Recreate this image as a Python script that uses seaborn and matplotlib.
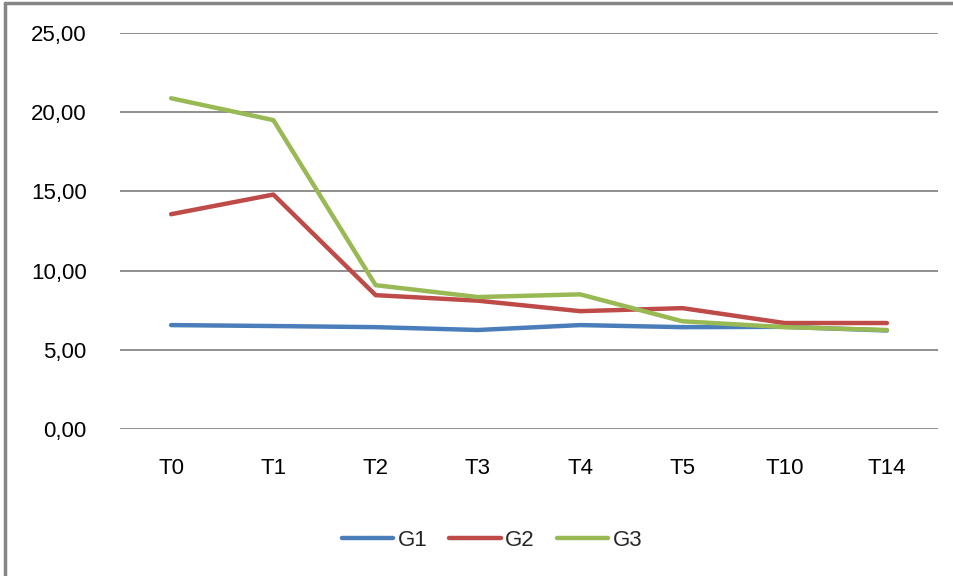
import matplotlib
matplotlib.use("Agg")
import matplotlib.pyplot as plt
import seaborn as sns
import pandas as pd
from matplotlib.lines import Line2D
from matplotlib.ticker import FuncFormatter

categories = ["T0", "T1", "T2", "T3", "T4", "T5", "T10", "T14"]
g1 = [6.56, 6.50, 6.43, 6.25, 6.56, 6.43, 6.45, 6.22]
g2 = [13.56, 14.80, 8.45, 8.10, 7.44, 7.63, 6.69, 6.69]
g3 = [20.88, 19.50, 9.08, 8.33, 8.50, 6.80, 6.43, 6.25]
series_names = ["G1", "G2", "G3"]
colors = ["#4A7EBB", "#BE4B48", "#98B954"]
y_ticks = [0, 5, 10, 15, 20, 25]

sns.set_style("white")
plt.rcParams["font.family"] = ["Liberation Sans Narrow", "Liberation Sans", "DejaVu Sans"]

rows = []
for name, vals in zip(series_names, [g1, g2, g3]):
    for c, v in zip(categories, vals):
        rows.append({"cat": c, "val": v, "series": name})
df = pd.DataFrame(rows)

fig = plt.figure(figsize=(9.54, 5.76), dpi=100)
ax = fig.add_axes([120/954, 1 - 429/576, (938 - 120)/954, (429 - 33)/576])

sns.lineplot(data=df, x="cat", y="val", hue="series", palette=colors,
             linewidth=3.2, sort=False, ax=ax, legend=False)

ax.set_xlim(-0.5, len(categories) - 0.5)
ax.set_ylim(0, 25)
ax.set_yticks(y_ticks)
ax.yaxis.set_major_formatter(FuncFormatter(lambda v, p: f"{v:.2f}".replace(".", ",")))
ax.set_xticks(range(len(categories)))
ax.set_xticklabels(categories)
ax.grid(axis="y", color="#868686", linewidth=1.3)
ax.grid(axis="x", visible=False)
for s in ax.spines.values():
    s.set_visible(False)
ax.tick_params(axis="both", length=0, labelsize=16, colors="black")
ax.tick_params(axis="y", pad=24)
ax.tick_params(axis="x", pad=21)
ax.set_xlabel("")
ax.set_ylabel("")

handles = [Line2D([0], [0], color=c, lw=3.2) for c in colors]
fig.legend(handles, series_names, loc="center", bbox_to_anchor=(492/954, 1 - 540/576),
           ncol=3, frameon=False, fontsize=16, handlelength=2.3, handletextpad=0.2,
           columnspacing=1.0)

# outer chart border (left and top visible)
fig.add_artist(Line2D([5/954, 5/954], [0, 1 - 3/576], transform=fig.transFigure,
                      color="#868686", lw=2.5))
fig.add_artist(Line2D([5/954, 1], [1 - 3/576, 1 - 3/576], transform=fig.transFigure,
                      color="#868686", lw=2.5))

fig.savefig("out.png", dpi=100)
